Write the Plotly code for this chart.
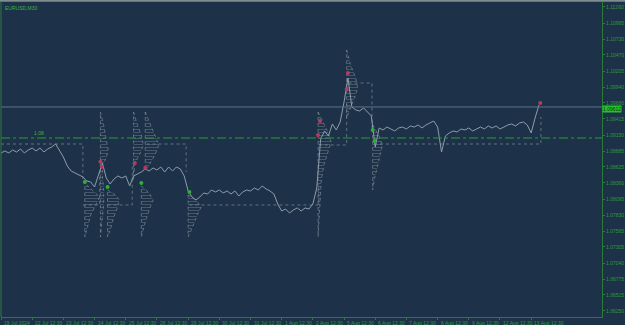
import plotly.graph_objects as go

# ---------------- data ----------------
STEP = 6  # bars between stored closes (M30 bars)
closes = [1.08854, 1.08887, 1.08854, 1.08903, 1.08870, 1.08920, 1.08854, 1.08903, 1.08936, 1.08887,
          1.08936, 1.08870, 1.08920, 1.08953, 1.09002, 1.08903, 1.08788, 1.08640, 1.08557, 1.08524,
          1.08491, 1.08459, 1.08393, 1.08376, 1.08294, 1.08491, 1.08689, 1.08442, 1.08343, 1.08426,
          1.08475, 1.08442, 1.08475, 1.08310, 1.08475, 1.08508, 1.08541, 1.08590, 1.08557, 1.08607,
          1.08574, 1.08623, 1.08541, 1.08623, 1.08557, 1.08623, 1.08590, 1.08475, 1.08228, 1.08129,
          1.08079, 1.08129, 1.08195, 1.08178, 1.08244, 1.08211, 1.08244, 1.08195, 1.08228, 1.08178,
          1.08228, 1.08145, 1.08211, 1.08244, 1.08228, 1.08277, 1.08244, 1.08310, 1.08261, 1.08228,
          1.08178, 1.08013, 1.07898, 1.07931, 1.07865, 1.07915, 1.07948, 1.07898, 1.07948, 1.07931,
          1.08013, 1.08277, 1.09085, 1.09217, 1.09134, 1.09332, 1.09233, 1.09365, 1.09694, 1.10090,
          1.09612, 1.09563, 1.09546, 1.09596, 1.09530, 1.09464, 1.08953, 1.09266, 1.09233, 1.09282,
          1.09249, 1.09217, 1.09266, 1.09282, 1.09249, 1.09299, 1.09282, 1.09315, 1.09266, 1.09315,
          1.09348, 1.09381, 1.09282, 1.08870, 1.09134, 1.09184, 1.09217, 1.09200, 1.09249, 1.09233,
          1.09266, 1.09217, 1.09249, 1.09282, 1.09249, 1.09299, 1.09266, 1.09299, 1.09249, 1.09282,
          1.09315, 1.09332, 1.09299, 1.09348, 1.09365, 1.09315, 1.09184, 1.09431, 1.09645]

x_ticks = [0, 48, 96, 144, 192, 240, 288, 336, 384, 432, 480, 528, 576, 624, 672, 720, 768, 816]
x_labels = ["19 Jul 2024", "22 Jul 12:30", "23 Jul 12:30", "24 Jul 12:30", "25 Jul 12:30",
            "26 Jul 12:30", "29 Jul 12:30", "30 Jul 12:30", "31 Jul 12:30", "1 Aug 12:30",
            "2 Aug 12:30", "5 Aug 12:30", "6 Aug 12:30", "7 Aug 12:30", "8 Aug 12:30",
            "9 Aug 12:30", "12 Aug 12:30", "13 Aug 12:30"]
y_ticks = [1.11260, 1.10995, 1.10730, 1.10470, 1.10205, 1.09940, 1.09680, 1.09415, 1.09150,
           1.08885, 1.08625, 1.08360, 1.08095, 1.07830, 1.07565, 1.07305, 1.07040, 1.06775,
           1.06515, 1.06250]

bid_price = 1.09612
level_price = 1.09101
level_label = "1.08"

# fans: anchor bar, price levels, widths (bars)
fans = [
    (129, [1.08327, 1.08244, 1.08129, 1.07997, 1.07832, 1.07667, 1.07470], [3, 12, 23, 17, 9, 5, 0]),
    (153, [1.09530, 1.09316, 1.09068, 1.08903, 1.08772, 1.08656, 1.08491, 1.08244, 1.07997, 1.07750, 1.07470],
          [0, 5, 9, 12, 9, 3, 3, 5, 5, 3, 0]),
    (164, [1.08244, 1.08162, 1.08079, 1.07948, 1.07783, 1.07618, 1.07470], [0, 12, 18, 15, 9, 5, 0]),
    (204, [1.09530, 1.09316, 1.09151, 1.08986, 1.08821, 1.08689, 1.08409], [0, 6, 12, 15, 9, 2, 0]),
    (222, [1.09530, 1.09365, 1.09151, 1.08986, 1.08821, 1.08656, 1.08574], [0, 6, 15, 21, 15, 6, 0]),
    (216, [1.08310, 1.08195, 1.08079, 1.07915, 1.07717, 1.07470], [0, 12, 18, 12, 6, 0]),
    (288, [1.08162, 1.08079, 1.07964, 1.07832, 1.07667, 1.07470], [0, 12, 20, 14, 8, 0]),
    (488, [1.09530, 1.09365, 1.09200, 1.09035, 1.08870, 1.08656, 1.08409, 1.08079, 1.07470],
          [0, 8, 15, 20, 15, 9, 5, 3, 0]),
    (532, [1.10551, 1.10304, 1.10090, 1.09925, 1.09760, 1.09596, 1.09431], [0, 6, 14, 17, 12, 6, 0]),
    (572, [1.09316, 1.09151, 1.08986, 1.08821, 1.08656, 1.08442, 1.08244], [0, 9, 15, 12, 8, 3, 0]),
]

# range boxes: bar0, bar1, horizontal-edge price, end price of right edge
boxes = [
    (0, 126, 1.09002, 1.08409),
    (126, 152, 1.07997, 1.08541),
    (164, 202, 1.07997, 1.08689),
    (224, 285, 1.09002, 1.08541),
    (290, 489, 1.07997, 1.08327),
    (489, 532, 1.08986, 1.09678),
    (535, 571, 1.10007, 1.09266),
    (574, 831, 1.09002, 1.09447),
]

red_bars = [153, 155, 206, 222, 488, 491, 532, 534, 830]
red_prices = [1.08711, 1.08629, 1.08689, 1.08607, 1.09151, 1.09381, 1.09909, 1.10172, 1.09678]
green_bars = [129, 164, 216, 290, 572, 575]
green_prices = [1.08376, 1.08294, 1.08360, 1.08211, 1.09233, 1.09052]

# ---------------- styles ----------------
BG = "#1d3248"
GREEN = "#2f9a3c"
AXIS = "#2c7a3a"
FONT = "Liberation Sans"

fig = go.Figure()

# fans
for anchor, prices, widths in fans:
    xs = [anchor + w for w in widths] + [anchor, anchor]
    ys = list(prices) + [prices[-1], prices[0]]
    fig.add_trace(go.Scatter(
        x=xs, y=ys, mode="lines", fill="toself",
        fillcolor="rgba(0,0,0,0)",
        fillpattern=dict(shape="-", fgcolor="rgba(160,170,182,0.6)", bgcolor="rgba(0,0,0,0)",
                         size=3, solidity=0.34),
        line=dict(color="rgba(150,160,172,0.55)", width=1, dash="dot"),
        hoverinfo="skip", showlegend=False))

# boxes
for b0, b1, ph, pv in boxes:
    fig.add_trace(go.Scatter(
        x=[b0, b1, b1], y=[ph, ph, pv], mode="lines",
        line=dict(color="rgba(130,140,150,0.7)", width=1, dash="dot"),
        hoverinfo="skip", showlegend=False))

# price line
bars = [i * STEP for i in range(len(closes))]
fig.add_trace(go.Scatter(x=bars, y=closes, mode="lines",
                         line=dict(color="#8e9cab", width=1),
                         hoverinfo="skip", showlegend=False))

# markers
fig.add_trace(go.Scatter(x=red_bars, y=red_prices, mode="markers",
                         marker=dict(color="#b83a60", size=4, line=dict(width=0)),
                         showlegend=False, hoverinfo="skip"))
fig.add_trace(go.Scatter(x=green_bars, y=green_prices, mode="markers",
                         marker=dict(color="#2fae3a", size=4, line=dict(width=0)),
                         showlegend=False, hoverinfo="skip"))

# horizontal lines
fig.add_hline(y=bid_price, line=dict(color="#5e7386", width=1))
fig.add_hline(y=level_price, line=dict(color="#2e9a3a", width=1, dash="dashdot"))
fig.add_annotation(x=58, y=level_price, text=level_label, showarrow=False,
                   xanchor="center", yanchor="bottom", yshift=0,
                   font=dict(family=FONT, size=5, color="#3fb04a"))

# x labels
for tv, tl in zip(x_ticks, x_labels):
    fig.add_annotation(x=tv, y=0, yref="paper", text=tl, showarrow=False,
                       xanchor="left", yanchor="top", xshift=1, yshift=-1,
                       font=dict(family=FONT, size=5, color=GREEN))

# title
fig.add_annotation(x=0, y=1, xref="paper", yref="paper", text="EURUSD,M30", showarrow=False,
                   xanchor="left", yanchor="top", xshift=2, yshift=-1,
                   font=dict(family=FONT, size=5, color="#3fb04a"))

# bid price label
fig.add_annotation(x=1, y=bid_price, xref="paper", text="1.09612", showarrow=False,
                   xanchor="left", yanchor="middle", xshift=0, yshift=-2,
                   bgcolor="#23c42a", borderpad=0,
                   font=dict(family=FONT, size=5, color="#0d3010"))

# borders
fig.add_shape(type="line", xref="paper", yref="paper", x0=0, x1=0, y0=0, y1=1,
              line=dict(color=AXIS, width=1))
fig.add_shape(type="line", xref="paper", yref="paper", x0=-0.01, x1=1.05, y0=1.004, y1=1.004,
              line=dict(color="#7d8c8c", width=2))

fig.update_layout(
    width=625, height=325,
    margin=dict(l=1, r=21, t=2, b=8),
    paper_bgcolor=BG, plot_bgcolor=BG,
    showlegend=False,
    xaxis=dict(range=[0, 925], showgrid=False, zeroline=False,
               tickvals=x_ticks, ticktext=[""] * len(x_ticks), ticks="outside", ticklen=2,
               tickcolor=AXIS, showline=True, linecolor=AXIS, linewidth=1,
               showticklabels=False, fixedrange=True),
    yaxis=dict(range=[1.06151, 1.11342], side="right", showgrid=False, zeroline=False,
               tickvals=y_ticks, ticktext=[f"{v:.5f}" for v in y_ticks],
               ticks="outside", ticklen=2, tickcolor=AXIS,
               tickfont=dict(family=FONT, size=5, color=GREEN),
               showline=True, linecolor=AXIS, linewidth=1, fixedrange=True),
)

fig.write_html("out.html")
